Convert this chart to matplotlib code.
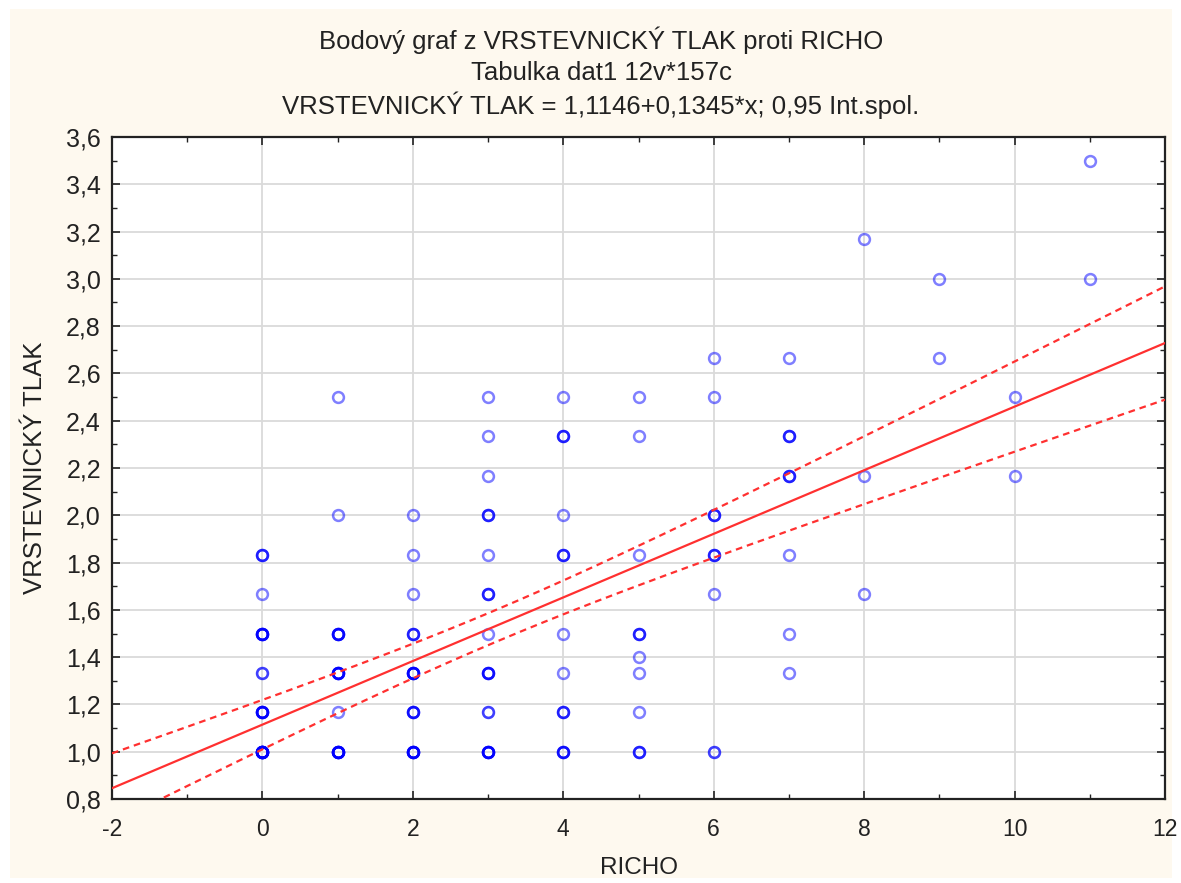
import numpy as np
import matplotlib
matplotlib.use("Agg")
import matplotlib.pyplot as plt
from matplotlib import font_manager
from matplotlib.patches import Rectangle
from matplotlib.ticker import MultipleLocator, FuncFormatter

# ---------------- data ----------------
richo = [0, 0, 0, 0, 0, 0,
         1, 1, 1, 1, 1, 1,
         2, 2, 2, 2, 2, 2, 2,
         3, 3, 3, 3, 3, 3, 3, 3, 3, 3,
         4, 4, 4, 4, 4, 4, 4, 4,
         5, 5, 5, 5, 5, 5, 5, 5,
         6, 6, 6, 6, 6, 6,
         7, 7, 7, 7, 7, 7,
         8, 8, 8,
         9, 9,
         10, 10,
         11, 11]
tlak = [1.0, 7/6, 4/3, 1.5, 5/3, 11/6,
        1.0, 7/6, 4/3, 1.5, 2.0, 2.5,
        1.0, 7/6, 4/3, 1.5, 5/3, 11/6, 2.0,
        1.0, 7/6, 4/3, 1.5, 5/3, 11/6, 2.0, 13/6, 7/3, 2.5,
        1.0, 7/6, 4/3, 1.5, 11/6, 2.0, 7/3, 2.5,
        1.0, 7/6, 4/3, 1.4, 1.5, 11/6, 7/3, 2.5,
        1.0, 5/3, 11/6, 2.0, 2.5, 8/3,
        4/3, 1.5, 11/6, 13/6, 7/3, 8/3,
        5/3, 13/6, 19/6,
        8/3, 3.0,
        13/6, 2.5,
        3.0, 3.5]
pocet = [12, 6, 2, 6, 1, 3,
         8, 1, 6, 5, 1, 1,
         7, 4, 6, 3, 1, 1, 1,
         6, 2, 4, 1, 3, 1, 3, 1, 1, 1,
         4, 3, 1, 1, 3, 1, 3, 1,
         3, 1, 1, 1, 3, 1, 1, 1,
         2, 1, 3, 3, 1, 1,
         1, 1, 1, 3, 3, 1,
         1, 1, 1,
         1, 1,
         1, 1,
         1, 1]
intercept = 1.1146
slope = 0.1345
t_crit = 1.975

title_lines = ["Bodový graf z VRSTEVNICKÝ TLAK proti RICHO",
               "Tabulka dat1 12v*157c",
               "VRSTEVNICKÝ TLAK = 1,1146+0,1345*x; 0,95 Int.spol."]
x_label = "RICHO"
y_label = "VRSTEVNICKÝ TLAK"

# ---------------- fonts ----------------
avail = {f.name for f in font_manager.fontManager.ttflist}
def pick(*names):
    for n in names:
        if n in avail:
            return n
    return "DejaVu Sans"
regular = pick("Liberation Sans", "Arial", "DejaVu Sans")
plt.rcParams["font.family"] = [regular, "DejaVu Sans"]
txt = "#222222"

# ---------------- figure ----------------
W, H = 1181, 883
fig = plt.figure(figsize=(W / 100, H / 100), dpi=100, facecolor="white")
fig.patches.append(Rectangle((10 / W, 5 / H), (1172 - 10) / W, (874 - 5) / H,
                             transform=fig.transFigure, facecolor="#FEF9EF",
                             edgecolor="none", zorder=-10))

ax = fig.add_axes([112 / W, 1 - 799 / H, (1165 - 112) / W, (799 - 137) / H])
ax.set_facecolor("white")

# expand points by multiplicity
xs = np.repeat(np.array(richo, float), pocet)
ys = np.repeat(np.array(tlak, float), pocet)

ax.plot(xs, ys, linestyle="none", marker="o", markersize=7.8, markerfacecolor="none",
        markeredgecolor=(0, 0, 1, 0.5), markeredgewidth=1.8, zorder=3)

# regression line and 95% confidence band
n = len(xs)
xm = xs.mean()
sxx = ((xs - xm) ** 2).sum()
resid = ys - (intercept + slope * xs)
s = np.sqrt((resid ** 2).sum() / (n - 2))
xx = np.linspace(-2, 12, 300)
yy = intercept + slope * xx
hw = t_crit * s * np.sqrt(1 / n + (xx - xm) ** 2 / sxx)
red = "#FF3030"
ax.plot(xx, yy, color=red, lw=1.6, zorder=4)
ax.plot(xx, yy + hw, color=red, lw=1.6, ls=(0, (3, 2.2)), zorder=4)
ax.plot(xx, yy - hw, color=red, lw=1.6, ls=(0, (3, 2.2)), zorder=4)

ax.set_xlim(-2, 12)
ax.set_ylim(0.8, 3.6)
ax.xaxis.set_major_locator(MultipleLocator(2))
ax.xaxis.set_minor_locator(MultipleLocator(1))
ax.yaxis.set_major_locator(MultipleLocator(0.2))
ax.yaxis.set_minor_locator(MultipleLocator(0.1))
ax.xaxis.set_major_formatter(FuncFormatter(lambda v, p: f"{v:.0f}"))
ax.yaxis.set_major_formatter(FuncFormatter(lambda v, p: f"{v:.1f}".replace(".", ",")))
ax.grid(True, which="major", color="#DADADA", lw=1.3, zorder=0)
ax.set_axisbelow(True)
ax.tick_params(which="both", direction="in", top=True, right=True, color=txt)
ax.tick_params(which="major", length=6, width=1.2)
ax.tick_params(which="minor", length=3.5, width=1.0)
ax.tick_params(axis="y", labelsize=18, pad=8, labelcolor=txt)
ax.tick_params(axis="x", labelsize=16.5, pad=14, labelcolor=txt)
for sp in ax.spines.values():
    sp.set_linewidth(1.6)
    sp.set_color(txt)

ax.set_xlabel(x_label, fontsize=17.5, color=txt, va="center")
ax.xaxis.set_label_coords(0.5, (799 - 868) / (799 - 137))
ax.set_ylabel(y_label, fontsize=18.5, color=txt, va="center")
ax.yaxis.set_label_coords((35 - 112) / (1165 - 112), 0.5)

for t, yp in zip(title_lines, [40, 73, 105]):
    fig.text(601 / W, 1 - yp / H, t, ha="center", va="center",
             fontsize=18.5, color=txt)

fig.savefig("out.png", dpi=100, facecolor=fig.get_facecolor())
